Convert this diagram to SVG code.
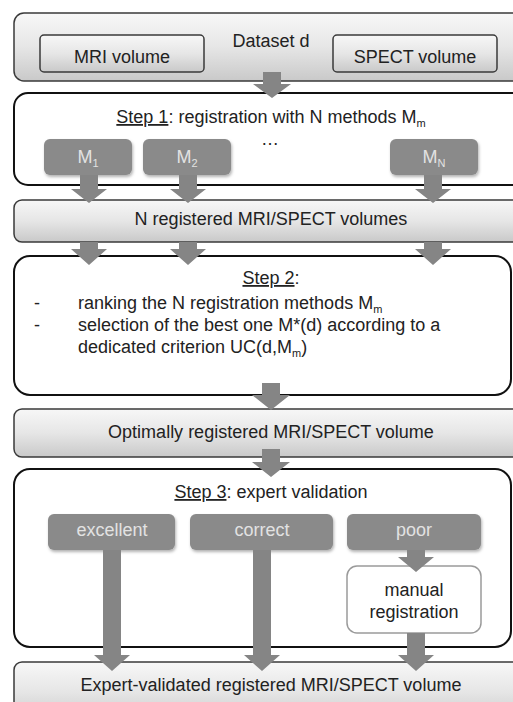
<svg xmlns="http://www.w3.org/2000/svg" width="513" height="702" viewBox="0 0 513 702">
<defs>
<linearGradient id="gbox" x1="0" y1="0" x2="0" y2="1">
<stop offset="0" stop-color="#f7f7f7"/>
<stop offset="0.5" stop-color="#e6e6e6"/>
<stop offset="1" stop-color="#c9c9c9"/>
</linearGradient>
<filter id="sh" x="-10%" y="-10%" width="130%" height="140%">
<feDropShadow dx="1" dy="2" stdDeviation="1.5" flood-color="#000" flood-opacity="0.3"/>
</filter>
</defs>
<style>
text{font-family:"Liberation Sans",Arial,sans-serif;font-size:18px;fill:#222}
.c{text-anchor:middle}
.w{fill:#e2e2e2}
.grad{fill:url(#gbox);stroke:#3a3a3a;stroke-width:1.5}
.step{fill:#fff;stroke:#111;stroke-width:2}
.m{fill:#8a8a8a;filter:url(#sh)}
.man{fill:#fff;stroke:#9a9a9a;stroke-width:1.5}
.arr{fill:#858585}
</style>
<rect width="513" height="702" fill="#fff"/>

<g id="dataset">
<rect class="grad" x="14" y="13" width="520" height="68" rx="10"/>
<text class="c" x="271" y="47">Dataset d</text>
</g>
<g id="mri">
<rect class="grad" x="40" y="35" width="164" height="37" rx="4"/>
<text class="c" x="122" y="63">MRI volume</text>
</g>
<g id="spect">
<rect class="grad" x="333" y="35" width="164" height="37" rx="4"/>
<text class="c" x="415" y="63">SPECT volume</text>
</g>

<g id="step1">
<rect class="step" x="14" y="93" width="520" height="92" rx="14"/>
<text class="c" x="271" y="123"><tspan text-decoration="underline">Step 1</tspan>: registration with N methods M<tspan dy="4" font-size="11">m</tspan></text>
<text class="c" x="270" y="145" font-size="12" fill="#555">…</text>
</g>
<g id="m1">
<rect class="m" x="44" y="139" width="88" height="36" rx="6"/>
<text class="c w" x="88" y="163">M<tspan dy="4" font-size="11" class="w">1</tspan></text>
</g>
<g id="m2">
<rect class="m" x="143" y="139" width="88" height="36" rx="6"/>
<text class="c w" x="187" y="163">M<tspan dy="4" font-size="11" class="w">2</tspan></text>
</g>
<g id="mN">
<rect class="m" x="390" y="139" width="88" height="36" rx="6"/>
<text class="c w" x="434" y="163">M<tspan dy="4" font-size="11" class="w">N</tspan></text>
</g>

<g id="nreg">
<rect class="grad" x="14" y="200" width="520" height="42" rx="8"/>
<text class="c" x="271" y="225">N registered MRI/SPECT volumes</text>
</g>

<g id="step2">
<rect class="step" x="14" y="256" width="497" height="139" rx="16"/>
<text class="c" x="271" y="284"><tspan text-decoration="underline">Step 2</tspan>:</text>
<text x="34" y="309">-</text>
<text x="78" y="309">ranking the N registration methods M<tspan dy="4" font-size="11">m</tspan></text>
<text x="34" y="331">-</text>
<text x="78" y="331">selection of the best one M*(d) according to a</text>
<text x="78" y="353">dedicated criterion UC(d,M<tspan dy="4" font-size="11">m</tspan><tspan dy="-4">)</tspan></text>
</g>

<g id="optimal">
<rect class="grad" x="14" y="409" width="520" height="48" rx="8"/>
<text class="c" x="271" y="438">Optimally registered MRI/SPECT volume</text>
</g>

<g id="step3">
<rect class="step" x="14" y="469" width="497" height="178" rx="16"/>
<text class="c" x="271" y="498"><tspan text-decoration="underline">Step 3</tspan>: expert validation</text>
</g>
<g id="excellent">
<rect class="m" x="48" y="514" width="127" height="36" rx="6"/>
<text class="c w" x="112" y="536">excellent</text>
</g>
<g id="correct">
<rect class="m" x="190" y="514" width="143" height="36" rx="6"/>
<text class="c w" x="262" y="536">correct</text>
</g>
<g id="poor">
<rect class="m" x="347" y="514" width="134" height="36" rx="6"/>
<text class="c w" x="414" y="536">poor</text>
</g>
<g id="manual">
<rect class="man" x="347" y="566" width="134" height="67" rx="10"/>
<text class="c" x="414" y="596">manual</text>
<text class="c" x="414" y="618">registration</text>
</g>

<g id="final">
<rect class="grad" x="14" y="662" width="520" height="60" rx="8"/>
<text class="c" x="271" y="691">Expert-validated registered MRI/SPECT volume</text>
</g>

<g id="connectors" class="arr">
<path d="M263 72H281V84H291L272 98L253 84H263Z"/>
<path d="M80 175H98V189H107L89 203L71 189H80Z"/>
<path d="M179 175H197V189H206L188 203L170 189H179Z"/>
<path d="M424 175H442V189H451L433 203L415 189H424Z"/>
<path d="M80 242H98V249H107L89 265L71 249H80Z"/>
<path d="M179 242H197V249H206L188 265L170 249H179Z"/>
<path d="M424 242H442V249H451L433 265L415 249H424Z"/>
<path d="M262 383H280V395H290L271 410L252 395H262Z"/>
<path d="M262 449H280V462H290L271 477L252 462H262Z"/>
<path d="M103 550H121V655H130L112 671L94 655H103Z"/>
<path d="M253 550H271V655H280L262 671L244 655H253Z"/>
<path d="M407 550H425V557H434L416 572L398 557H407Z"/>
<path d="M407 633H425V655H434L416 671L398 655H407Z"/>
</g>
</svg>
